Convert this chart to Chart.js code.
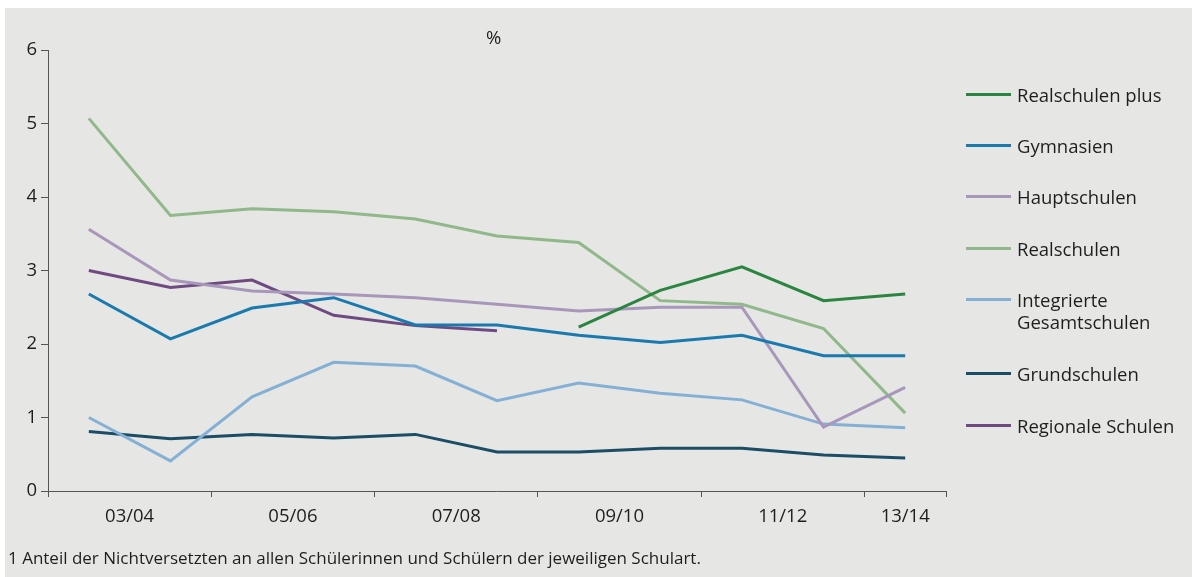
<!DOCTYPE html>
<html>
<head>
<meta charset="utf-8">
<script src="https://cdn.jsdelivr.net/npm/chart.js@4.4.1/dist/chart.umd.min.js"></script>
<style>
  body { margin: 0; background: #fff; font-family: "Open Sans", sans-serif; color: #1e1e1e; }
  #wrap { position: relative; width: 1192px; height: 577px; overflow: hidden; }
  #bg { position: absolute; left: 5px; top: 8px; right: 0; bottom: 0; background: #e6e6e4; }
  #chart { position: absolute; left: 0; top: 0; }
  #unit { position: absolute; left: 486px; top: 24px; font-size: 18.5px; }
  #note { position: absolute; left: 8px; top: 546px; font-size: 17px; }
  #legend { position: absolute; left: 966px; top: 0; font-size: 18.5px; }
  .item { position: absolute; left: 0; white-space: nowrap; line-height: 22px; }
  .item i { position: absolute; left: 0; top: 9px; width: 45px; height: 3px; }
  .item span { position: absolute; left: 51px; top: 0; }
</style>
</head>
<body>
<div id="wrap">
  <div id="bg"></div>
  <canvas id="chart" width="1192" height="577"></canvas>
  <div id="unit">%</div>
  <div id="legend"></div>
  <div id="note">1 Anteil der Nichtversetzten an allen Schülerinnen und Schülern der jeweiligen Schulart.</div>
</div>
<script>
// school years 03/04 .. 13/14 (index 0..10)
const years = ['03/04', '04/05', '05/06', '06/07', '07/08', '08/09', '09/10', '10/11', '11/12', '12/13', '13/14'];
const axisLabels = ['03/04', '05/06', '07/08', '09/10', '11/12', '13/14'];
const labelPos = [0.5, 2.5, 4.5, 6.5, 8.5, 10];
const markPos = [-0.5, 1.5, 3.5, 5.5, 7.5, 9.5, 10.5];

const realschulenPlus = [null, null, null, null, null, null, 2.23, 2.73, 3.05, 2.59, 2.68];
const gymnasien = [2.68, 2.07, 2.49, 2.63, 2.26, 2.26, 2.12, 2.02, 2.12, 1.84, 1.84];
const hauptschulen = [3.56, 2.87, 2.72, 2.68, 2.63, 2.54, 2.45, 2.50, 2.50, 0.87, 1.41];
const realschulen = [5.07, 3.75, 3.84, 3.80, 3.70, 3.47, 3.38, 2.59, 2.54, 2.21, 1.06];
const gesamtschulen = [1.00, 0.41, 1.28, 1.75, 1.70, 1.23, 1.47, 1.33, 1.24, 0.91, 0.86];
const grundschulen = [0.81, 0.71, 0.77, 0.72, 0.77, 0.53, 0.53, 0.58, 0.58, 0.49, 0.45];
const regionaleSchulen = [3.00, 2.77, 2.87, 2.39, 2.25, 2.18, null, null, null, null, null];

const series = [
  { name: ['Realschulen plus'], data: realschulenPlus, color: '#2a8540', y: 84 },
  { name: ['Gymnasien'], data: gymnasien, color: '#1a7aad', y: 135 },
  { name: ['Hauptschulen'], data: hauptschulen, color: '#a897bb', y: 186 },
  { name: ['Realschulen'], data: realschulen, color: '#90b88a', y: 238 },
  { name: ['Integrierte', 'Gesamtschulen'], data: gesamtschulen, color: '#85b0d6', y: 289 },
  { name: ['Grundschulen'], data: grundschulen, color: '#1b4d66', y: 363 },
  { name: ['Regionale Schulen'], data: regionaleSchulen, color: '#6e4a80', y: 415 }
];

const legend = document.getElementById('legend');
series.forEach(s => {
  const d = document.createElement('div');
  d.className = 'item';
  d.style.top = s.y + 'px';
  d.innerHTML = `<i style="background:${s.color}"></i><span>${s.name.join('<br>')}</span>`;
  legend.appendChild(d);
});

const datasets = series.map(s => ({
  label: s.name.join(' '),
  data: s.data.map((v, i) => ({ x: i, y: v })),
  borderColor: s.color,
  backgroundColor: s.color,
  borderWidth: 3,
  pointRadius: 0,
  tension: 0,
  spanGaps: false,
  borderCapStyle: 'butt',
  borderJoinStyle: 'miter'
}));

const tickFont = { family: 'Open Sans', size: 18.5 };

new Chart(document.getElementById('chart'), {
  type: 'line',
  data: { datasets },
  options: {
    responsive: false,
    animation: false,
    events: [],
    layout: { padding: { top: 50, right: 246, left: 0, bottom: 0 } },
    plugins: { legend: { display: false }, tooltip: { enabled: false } },
    scales: {
      x: {
        type: 'linear',
        min: -0.5,
        max: 10.5,
        afterBuildTicks: (scale) => {
          const all = markPos.map(v => ({ value: v }))
            .concat(labelPos.map(v => ({ value: v })));
          all.sort((a, b) => a.value - b.value);
          scale.ticks = all;
        },
        afterFit: (scale) => { scale.height = 86; },
        ticks: {
          autoSkip: false,
          maxRotation: 0,
          padding: 9,
          color: '#1e1e1e',
          font: tickFont,
          callback: (value) => {
            const k = labelPos.indexOf(value);
            return k >= 0 ? axisLabels[k] : '';
          }
        },
        grid: {
          drawOnChartArea: false,
          tickLength: 6,
          tickWidth: 1,
          tickColor: (ctx) => (ctx.tick && markPos.includes(ctx.tick.value)) ? '#555' : 'rgba(0,0,0,0)'
        },
        border: { display: true, color: '#555', width: 1 }
      },
      y: {
        min: 0,
        max: 6,
        afterFit: (scale) => { scale.width = 48; },
        ticks: { stepSize: 1, padding: 4, color: '#1e1e1e', font: tickFont },
        grid: { drawOnChartArea: false, tickLength: 7, tickColor: '#555' },
        border: { display: true, color: '#555', width: 1 }
      }
    }
  }
});
</script>
</body>
</html>
